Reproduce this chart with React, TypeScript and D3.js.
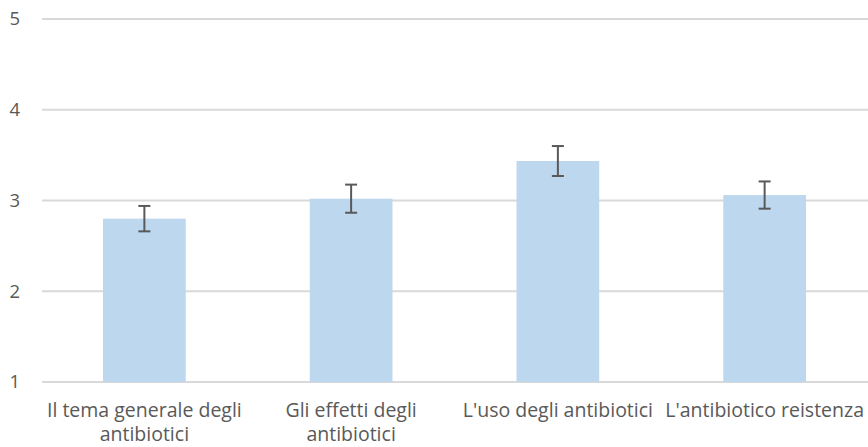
import React from "react";
import * as d3 from "d3";

const categories: string[][] = [
  ["Il tema generale degli", "antibiotici"],
  ["Gli effetti degli", "antibiotici"],
  ["L'uso degli antibiotici"],
  ["L'antibiotico reistenza"],
];
const means = [2.8, 3.02, 3.435, 3.06];
const errors = [0.14, 0.155, 0.165, 0.15];
const yTicks = [1, 2, 3, 4, 5];

const W = 868;
const H = 447;
const FONT = "'Open Sans', Lato, sans-serif";

export default function App() {
  const x = d3
    .scaleBand<number>()
    .domain(d3.range(categories.length))
    .range([41, 868])
    .paddingInner(0.6)
    .paddingOuter(0.3);
  const y = d3.scaleLinear().domain([1, 5]).range([382, 19]);
  const bw = x.bandwidth();
  const cap = 6;

  return (
    <svg
      width={W}
      height={H}
      style={{ position: "absolute", left: 0, top: 0, background: "#fff" }}
    >
      {yTicks.map((t) => (
        <g key={t}>
          <line x1={42} x2={868} y1={y(t)} y2={y(t)} stroke="#D9D9D9" strokeWidth={2} />
          <text
            x={20}
            y={y(t)}
            dy="0.35em"
            textAnchor="end"
            fontFamily={FONT}
            fontSize={18.5}
            fill="#595959"
          >
            {t}
          </text>
        </g>
      ))}
      {means.map((m, i) => {
        const cx = (x(i) as number) + bw / 2;
        return (
          <g key={i}>
            <rect
              x={x(i)}
              y={y(m)}
              width={bw}
              height={y(1) - y(m)}
              fill="#BDD7EE"
            />
            <line
              x1={cx}
              x2={cx}
              y1={y(m + errors[i])}
              y2={y(m - errors[i])}
              stroke="#595959"
              strokeWidth={2}
            />
            <line
              x1={cx - cap}
              x2={cx + cap}
              y1={y(m + errors[i])}
              y2={y(m + errors[i])}
              stroke="#595959"
              strokeWidth={2}
            />
            <line
              x1={cx - cap}
              x2={cx + cap}
              y1={y(m - errors[i])}
              y2={y(m - errors[i])}
              stroke="#595959"
              strokeWidth={2}
            />
            <text
              textAnchor="middle"
              fontFamily={FONT}
              fontSize={19.5}
              fill="#595959"
            >
              {categories[i].map((line, j) => (
                <tspan key={j} x={cx} y={417 + j * 24}>
                  {line}
                </tspan>
              ))}
            </text>
          </g>
        );
      })}
    </svg>
  );
}
